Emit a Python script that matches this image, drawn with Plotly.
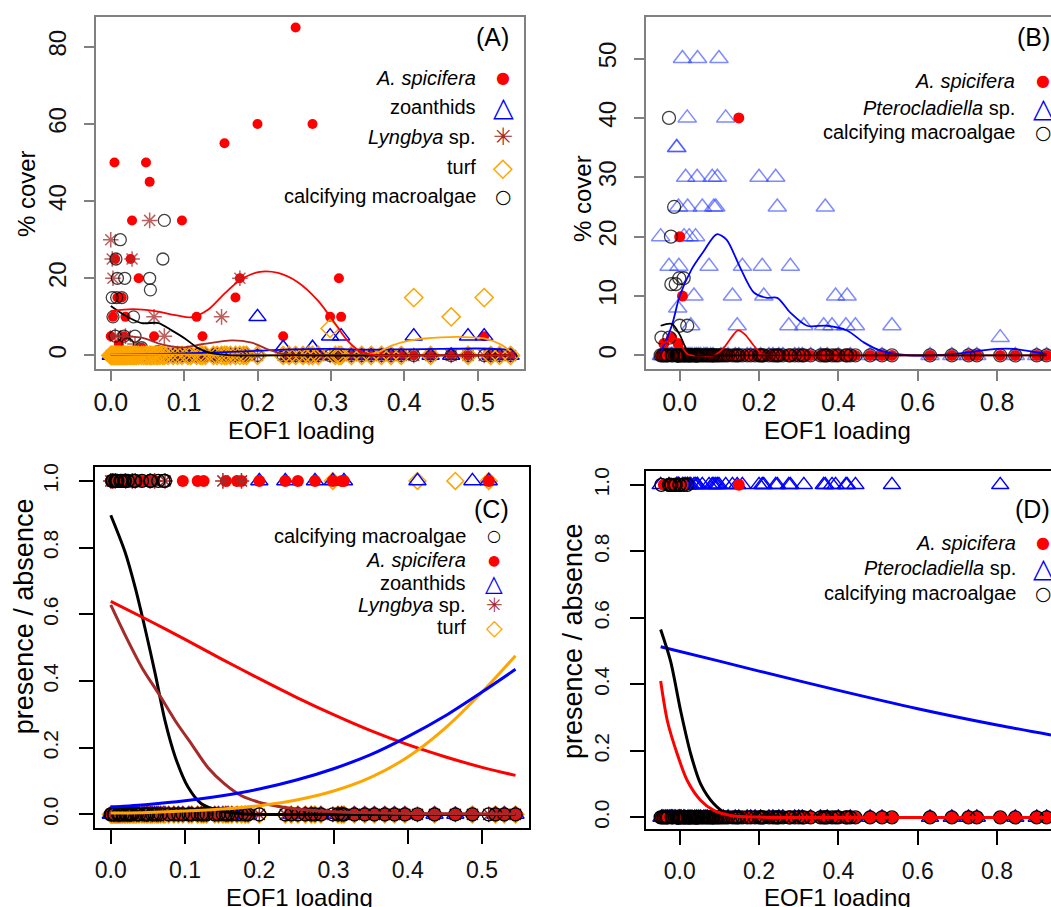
import plotly.graph_objects as go

W, H = 1051, 907
FONT = "Liberation Sans, Arial, Helvetica, sans-serif"
SYMFONT = "DejaVu Sans, sans-serif"

# ---------------- Panel A / C data (sites along EOF1 loading, % cover) ----------------
# sites where none of the five groups was recorded
SITES_A_OTHER = [0.001, 0.004, 0.010, 0.012, 0.016, 0.022, 0.025, 0.035, 0.045, 0.050,
                 0.056, 0.062, 0.067, 0.078, 0.085, 0.091, 0.105, 0.109, 0.122, 0.129,
                 0.140, 0.145, 0.158, 0.163, 0.181, 0.185, 0.243, 0.262, 0.270, 0.283,
                 0.306, 0.328, 0.342, 0.355, 0.369, 0.382, 0.396, 0.436, 0.518, 0.530, 0.545]

ASP_A_X = [0.000, 0.003, 0.005, 0.006, 0.009, 0.011, 0.015, 0.018, 0.020, 0.027,
           0.029, 0.038, 0.042, 0.048, 0.053, 0.059, 0.097, 0.117, 0.125, 0.155,
           0.170, 0.176, 0.200, 0.235, 0.252, 0.275, 0.299, 0.311, 0.314, 0.509]
ASP_A_Y = [5, 10, 50, 25, 15, 3, 15, 5, 10, 25,
           35, 20, 2, 50, 45, 5, 35, 10, 5, 55,
           15, 20, 60, 5, 85, 60, 10, 20, 10, 5]
ZOA_A_X = [0.200, 0.235, 0.275, 0.299, 0.314, 0.413, 0.487, 0.509]
ZOA_A_Y = [10, 2, 2, 5, 5, 5, 5, 5]
LYN_A_X = [0.000, 0.002, 0.003, 0.006, 0.020, 0.029, 0.033, 0.053, 0.059, 0.073, 0.151, 0.176]
LYN_A_Y = [30, 25, 20, 5, 5, 25, 3, 35, 10, 5, 10, 20]
TURF_A_X = [0.299, 0.413, 0.464, 0.509]
TURF_A_Y = [7, 15, 10, 15]
CAL_A_X = [0.002, 0.003, 0.006, 0.007, 0.008, 0.009, 0.013, 0.015, 0.018, 0.019,
           0.023, 0.031, 0.033, 0.042, 0.053, 0.054, 0.064, 0.071, 0.073]
CAL_A_Y = [15, 10, 5, 25, 15, 20, 30, 15, 5, 20,
           3, 10, 5, 2, 20, 17, 1, 25, 35]

# smoothers, panel A
A_RED_LX = [0.0, 0.03, 0.06, 0.09, 0.11, 0.133, 0.156, 0.176, 0.201, 0.228, 0.255, 0.283, 0.305, 0.323, 0.341, 0.36, 0.40, 0.45, 0.50, 0.545]
A_RED_LY = [11.5, 12.0, 11.5, 10.4, 9.9, 11.9, 16.2, 19.5, 21.6, 21.4, 19.0, 14.1, 8.5, 3.8, 1.0, 0.1, 0.0, 0.0, 0.0, 0.0]
A_CAL_LX = [0.0, 0.02, 0.042, 0.065, 0.083, 0.101, 0.119, 0.137, 0.16, 0.25, 0.40, 0.545]
A_CAL_LY = [12.8, 10.3, 8.4, 8.4, 6.5, 4.4, 1.9, 0.6, 0.1, 0.0, 0.0, 0.0]
A_LYN_LX = [0.0, 0.042, 0.069, 0.097, 0.124, 0.165, 0.192, 0.214, 0.233, 0.26, 0.35, 0.45, 0.545]
A_LYN_LY = [5.0, 4.6, 2.9, 2.1, 2.9, 3.9, 3.3, 1.6, 0.5, 0.1, 0.0, 0.0, 0.0]
A_ZOA_LX = [0.0, 0.1, 0.2, 0.25, 0.3, 0.35, 0.4, 0.45, 0.5, 0.545]
A_ZOA_LY = [0.2, 0.5, 1.2, 1.6, 1.7, 1.5, 1.6, 1.7, 1.8, 1.5]
A_TURF_LX = [0.0, 0.1, 0.2, 0.3, 0.345, 0.364, 0.382, 0.405, 0.428, 0.45, 0.473, 0.491, 0.509, 0.532, 0.545]
A_TURF_LY = [0.3, 0.2, 0.1, 0.1, 0.2, 0.8, 2.5, 3.8, 4.4, 4.7, 4.8, 4.7, 4.4, 2.8, 1.0]

# fitted presence curves, panel C
C_CAL_LX = [0.0, 0.019, 0.033, 0.046, 0.060, 0.073, 0.087, 0.104, 0.122, 0.145, 0.176, 0.25, 0.35, 0.45, 0.545]
C_CAL_LY = [0.897, 0.788, 0.679, 0.559, 0.42, 0.281, 0.171, 0.082, 0.032, 0.012, 0.002, 0.0, 0.0, 0.0, 0.0]
C_ASP_LX = [0.0, 0.05, 0.1, 0.15, 0.2, 0.25, 0.3, 0.35, 0.4, 0.45, 0.5, 0.545]
C_ASP_LY = [0.639, 0.583, 0.525, 0.465, 0.407, 0.351, 0.299, 0.251, 0.209, 0.173, 0.141, 0.117]
C_LYN_LX = [0.0, 0.019, 0.042, 0.065, 0.087, 0.109, 0.131, 0.154, 0.176, 0.199, 0.226, 0.26, 0.30, 0.40, 0.545]
C_LYN_LY = [0.628, 0.539, 0.44, 0.36, 0.28, 0.21, 0.14, 0.09, 0.056, 0.037, 0.024, 0.014, 0.008, 0.003, 0.001]
C_ZOA_LX = [0.0, 0.05, 0.1, 0.15, 0.2, 0.25, 0.3, 0.35, 0.4, 0.45, 0.5, 0.545]
C_ZOA_LY = [0.022, 0.030, 0.041, 0.056, 0.076, 0.103, 0.137, 0.179, 0.233, 0.295, 0.367, 0.435]
C_TURF_LX = [0.0, 0.05, 0.1, 0.15, 0.2, 0.25, 0.3, 0.35, 0.4, 0.45, 0.5, 0.545]
C_TURF_LY = [0.004, 0.006, 0.010, 0.016, 0.026, 0.043, 0.070, 0.111, 0.172, 0.258, 0.367, 0.476]

# ---------------- Panel B / D data ----------------
SITES_B_OTHER = [-0.046, -0.044, -0.040, -0.036, -0.032, -0.030, -0.018, -0.014, -0.010, -0.004,
                 0.001, 0.004, 0.013, 0.021, 0.026, 0.031, 0.038, 0.043, 0.048, 0.053,
                 0.061, 0.066, 0.070, 0.078, 0.084, 0.104, 0.110, 0.122, 0.140, 0.170,
                 0.179, 0.190, 0.204, 0.225, 0.235, 0.250, 0.260, 0.290, 0.300, 0.309,
                 0.330, 0.355, 0.372, 0.400, 0.430, 0.480, 0.510, 0.631, 0.686, 0.728,
                 0.749, 0.846, 0.900, 0.925]
PTE_B_X = [0.007, 0.045, 0.099, 0.019, 0.116, -0.007, -0.008, 0.015, 0.044, 0.082,
           0.095, 0.200, 0.242, -0.003, 0.020, 0.057, 0.086, 0.091, 0.246, 0.367,
           -0.048, 0.011, 0.024, 0.040, -0.027, -0.002, 0.074, 0.158, 0.208, 0.279,
           0.036, 0.133, 0.212, 0.393, 0.422, -0.005, 0.028, 0.145, 0.275, 0.313,
           0.363, 0.384, 0.419, 0.443, 0.535, 0.808]
PTE_B_Y = [50, 50, 50, 40, 40, 35, 35, 30, 30, 30,
           30, 30, 30, 25, 25, 25, 25, 25, 25, 25,
           20, 20, 20, 20, 15, 15, 15, 15, 15, 15,
           10, 10, 10, 10, 10, 8, 5, 5, 5, 5,
           5, 5, 5, 5, 5, 3]
CAL_B_X = [-0.027, -0.014, -0.022, -0.021, -0.010, -0.001, 0.010, 0.000, 0.019, -0.046, -0.026]
CAL_B_Y = [40, 25, 20, 12, 12, 13, 13, 5, 5, 3, 3]
ASP_B_X = [0.149, 0.000, 0.007, -0.040, -0.020, -0.004]
ASP_B_Y = [40, 20, 10, 2, 3, 2]

B_PTE_LX = [-0.048, -0.02, 0.0, 0.03, 0.06, 0.093, 0.118, 0.151, 0.187, 0.22, 0.246, 0.279, 0.321, 0.371, 0.422, 0.464, 0.506, 0.548, 0.632, 0.70, 0.80, 0.842, 0.925]
B_PTE_LY = [0.5, 5.0, 10.0, 14.5, 17.5, 20.4, 19.5, 15.0, 10.6, 9.7, 9.7, 7.2, 5.0, 5.0, 4.2, 2.2, 0.8, 0.2, 0.0, 0.3, 1.1, 1.1, 0.2]
B_ASP_LX = [-0.048, -0.01, 0.02, 0.05, 0.086, 0.11, 0.13, 0.147, 0.165, 0.185, 0.208, 0.25, 0.5, 0.925]
B_ASP_LY = [1.7, 2.8, 0.2, 0.0, 0.0, 1.2, 3.0, 4.2, 3.5, 1.8, 0.2, 0.0, 0.0, 0.0]
B_CAL_LX = [-0.048, -0.02, 0.0, 0.018, 0.04, 0.07, 0.2, 0.5, 0.925]
B_CAL_LY = [5.0, 5.3, 3.5, 1.0, 0.1, 0.0, 0.0, 0.0, 0.0]

D_PTE_LX = [-0.048, 0.1, 0.2, 0.4, 0.6, 0.8, 0.936]
D_PTE_LY = [0.513, 0.47, 0.44, 0.382, 0.327, 0.278, 0.248]
D_CAL_LX = [-0.048, -0.023, 0.0025, 0.028, 0.053, 0.086, 0.12, 0.17, 0.3, 0.5, 0.936]
D_CAL_LY = [0.565, 0.47, 0.32, 0.19, 0.10, 0.041, 0.01, 0.003, 0.0, 0.0, 0.0]
D_ASP_LX = [-0.048, -0.031, -0.006, 0.019, 0.053, 0.086, 0.128, 0.2, 0.5, 0.936]
D_ASP_LY = [0.41, 0.29, 0.19, 0.111, 0.051, 0.021, 0.006, 0.001, 0.0, 0.0]

# ---------------- helpers ----------------
def all_sites(other, *present_lists):
    s = set(other)
    for p in present_lists:
        s.update(p)
    return sorted(s)

def full_series(sites, px, py):
    rec = dict(zip(px, py))
    return sites, [rec.get(x, 0) for x in sites]

def presence(ys):
    return [1 if v > 0 else 0 for v in ys]

SITES_A = all_sites(SITES_A_OTHER, ASP_A_X, ZOA_A_X, LYN_A_X, TURF_A_X, CAL_A_X)
SITES_B = all_sites(SITES_B_OTHER, PTE_B_X, CAL_B_X, ASP_B_X)

RED = "#ff0000"
BLUE = "#0000ff"
BROWN = "#a52a2a"
ORANGE = "#ffa500"
BLACK = "#000000"

STY = {
    "asp": dict(symbol="circle", color=RED, size=10, lw=0),
    "zoa": dict(symbol="triangle-up-open", color=BLUE, size=15, lw=1.5),
    "lyn": dict(symbol="asterisk-open", color="rgba(165,42,42,0.75)", size=13, lw=1.5),
    "turf": dict(symbol="diamond-open", color=ORANGE, size=14, lw=1.5),
    "cal": dict(symbol="circle-open", color="rgba(0,0,0,0.75)", size=12, lw=1.3),
}

fig = go.Figure()

def pts(xs, ys, key, ax, size=None, color=None):
    s = STY[key]
    fig.add_trace(go.Scatter(
        x=xs, y=ys, mode="markers", xaxis="x" + ax, yaxis="y" + ax, showlegend=False,
        hoverinfo="skip",
        marker=dict(symbol=s["symbol"], color=color or s["color"], size=size or s["size"],
                    line=dict(width=s["lw"], color=color or s["color"]))))

def line(xs, ys, color, ax, width):
    fig.add_trace(go.Scatter(
        x=xs, y=ys, mode="lines", xaxis="x" + ax, yaxis="y" + ax, showlegend=False,
        hoverinfo="skip", line=dict(color=color, width=width, shape="spline", smoothing=0.8)))

# ---- Panel A ----
asp_x, asp_y = full_series(SITES_A, ASP_A_X, ASP_A_Y)
zoa_x, zoa_y = full_series(SITES_A, ZOA_A_X, ZOA_A_Y)
lyn_x, lyn_y = full_series(SITES_A, LYN_A_X, LYN_A_Y)
turf_x, turf_y = full_series(SITES_A, TURF_A_X, TURF_A_Y)
cal_x, cal_y = full_series(SITES_A, CAL_A_X, CAL_A_Y)

pts(asp_x, asp_y, "asp", "")
pts(zoa_x, zoa_y, "zoa", "")
pts(lyn_x, lyn_y, "lyn", "")
pts(cal_x, cal_y, "cal", "")
pts(turf_x, turf_y, "turf", "")
line(A_ZOA_LX, A_ZOA_LY, BLUE, "", 1.8)
line(A_TURF_LX, A_TURF_LY, ORANGE, "", 1.8)
line(A_LYN_LX, A_LYN_LY, BROWN, "", 1.8)
line(A_CAL_LX, A_CAL_LY, BLACK, "", 1.8)
line(A_RED_LX, A_RED_LY, RED, "", 1.8)

# ---- Panel B ----
pb_x, pb_y = full_series(SITES_B, PTE_B_X, PTE_B_Y)
cb_x, cb_y = full_series(SITES_B, CAL_B_X, CAL_B_Y)
ab_x, ab_y = full_series(SITES_B, ASP_B_X, ASP_B_Y)
pts(pb_x, pb_y, "zoa", "2", size=16, color="rgba(40,60,255,0.6)")
pts(ab_x, ab_y, "asp", "2", size=11)
pts(cb_x, cb_y, "cal", "2", size=13)
line(B_PTE_LX, B_PTE_LY, BLUE, "2", 1.8)
line(B_ASP_LX, B_ASP_LY, RED, "2", 1.8)
line(B_CAL_LX, B_CAL_LY, BLACK, "2", 1.8)

# ---- Panel C (presence / absence of panel A groups) ----
pts(turf_x, presence(turf_y), "turf", "3", size=13)
pts(zoa_x, presence(zoa_y), "zoa", "3", size=15, color=BLUE)
pts(asp_x, presence(asp_y), "asp", "3", size=12)
pts(lyn_x, presence(lyn_y), "lyn", "3", size=13, color=BROWN)
pts(cal_x, presence(cal_y), "cal", "3", size=13, color=BLACK)
line(C_CAL_LX, C_CAL_LY, BLACK, "3", 3)
line(C_LYN_LX, C_LYN_LY, BROWN, "3", 3)
line(C_ASP_LX, C_ASP_LY, RED, "3", 3)
line(C_TURF_LX, C_TURF_LY, ORANGE, "3", 3)
line(C_ZOA_LX, C_ZOA_LY, BLUE, "3", 3)

# ---- Panel D (presence / absence of panel B groups) ----
pts(pb_x, presence(pb_y), "zoa", "4", size=15, color=BLUE)
pts(ab_x, presence(ab_y), "asp", "4", size=12)
pts(cb_x, presence(cb_y), "cal", "4", size=13, color=BLACK)
line(D_PTE_LX, D_PTE_LY, BLUE, "4", 3)
line(D_CAL_LX, D_CAL_LY, BLACK, "4", 3)
line(D_ASP_LX, D_ASP_LY, RED, "4", 3)

# ---------------- layout ----------------
def hx(p): return p / W
def vy(p): return 1 - p / H

def xax(dom, rng, tv, fmt, gray, mirror=True, fs=24, tl=10, so=4):
    c = "#808080" if gray else "#000000"
    return dict(domain=[hx(dom[0]), hx(dom[1])], range=rng, tickvals=tv, tickformat=fmt,
                showgrid=False, zeroline=False, showline=True, linecolor=c, linewidth=2,
                mirror=mirror, ticks="outside", ticklen=tl, tickwidth=1.5, tickcolor=c,
                ticklabelstandoff=so, tickfont=dict(family=FONT, size=fs, color="#111"),
                fixedrange=True)

def yax(dom, rng, tv, fmt, gray, anchor, mirror=True, fs=24, tl=10, so=4):
    c = "#808080" if gray else "#000000"
    return dict(domain=[vy(dom[1]), vy(dom[0])], range=rng, tickvals=tv, tickformat=fmt,
                showgrid=False, zeroline=False, showline=True, linecolor=c, linewidth=2,
                mirror=mirror, ticks="outside", ticklen=tl, tickwidth=1.5, tickcolor=c,
                tickangle=-90, ticklabelstandoff=so, anchor=anchor,
                tickfont=dict(family=FONT, size=fs, color="#111"), fixedrange=True)

fig.update_layout(
    width=W, height=H, margin=dict(l=0, r=0, t=0, b=0),
    paper_bgcolor="white", plot_bgcolor="white",
    xaxis=dict(**xax((94, 523), [-0.0204, 0.5633], [0, 0.1, 0.2, 0.3, 0.4, 0.5], ".1f", True, fs=25, so=0), anchor="y"),
    yaxis=yax((13, 367), [-3.61, 87.74], [0, 20, 40, 60, 80], ".0f", True, "x", so=8),
    xaxis2=dict(**xax((645, 1051), [-0.0855, 0.936], [0, 0.2, 0.4, 0.6, 0.8], ".1f", True, fs=25, so=0), anchor="y2"),
    yaxis2=yax((13, 367), [-2.35, 57.0], [0, 10, 20, 30, 40, 50], ".0f", True, "x2", mirror=False, so=8),
    xaxis3=dict(**xax((93, 528), [-0.0215, 0.5632], [0, 0.1, 0.2, 0.3, 0.4, 0.5], ".1f", False, fs=23, tl=14, so=6), anchor="y3"),
    yaxis3=yax((465, 828), [-0.0418, 1.0418], [0, 0.2, 0.4, 0.6, 0.8, 1.0], ".1f", False, "x3", fs=21, tl=14, so=12),
    xaxis4=dict(**xax((645, 1051), [-0.0855, 0.936], [0, 0.2, 0.4, 0.6, 0.8], ".1f", False, fs=23, tl=14, so=6), anchor="y4"),
    yaxis4=yax((469, 829), [-0.0359, 1.0419], [0, 0.2, 0.4, 0.6, 0.8, 1.0], ".1f", False, "x4", mirror=False, fs=21, tl=14, so=12),
)

ann = []
def text(x, y, s, size, xanchor="center", angle=0, color="black", family=FONT):
    ann.append(dict(x=hx(x), y=vy(y), xref="paper", yref="paper", text=s, showarrow=False,
                    xanchor=xanchor, yanchor="middle", textangle=angle,
                    font=dict(family=family, size=size, color=color)))

# axis titles
text(24, 190, "% cover", 24, angle=-90)
text(581, 195, "% cover", 24, angle=-90)
text(300, 428, "EOF1 loading", 24)
text(837, 428, "EOF1 loading", 24)
text(22, 615, "presence / absence", 27, angle=-90)
text(572, 640, "presence / absence", 27, angle=-90)
text(298, 897, "EOF1 loading", 24)
text(837, 897, "EOF1 loading", 24)

# panel letters
text(510, 33, "(A)", 25, xanchor="right")
text(1015, 33, "(B)", 25, xanchor="left")
text(510, 507, "(C)", 25, xanchor="right")
text(1013, 507, "(D)", 25, xanchor="left")

SYM = {"asp": ("\u25CF", RED, 16), "zoa": ("\u25B3", BLUE, 27), "lyn": ("\u2733", BROWN, 24),
       "turf": ("\u25C7", ORANGE, 26), "cal": ("\u25CB", BLACK, 19)}
LAB = {"asp": "<i>A. spicifera</i>", "zoa": "zoanthids", "lyn": "<i>Lyngbya</i> sp.",
       "turf": "turf", "cal": "calcifying macroalgae", "pte": "<i>Pterocladiella</i> sp."}

def legend(keys, ys, xr, xs, labels=None, scale=1.0):
    for i, (k, yy) in enumerate(zip(keys, ys)):
        lab = labels[i] if labels else LAB[k]
        text(xr, yy, lab, 20, xanchor="right")
        g, c, s = SYM[k]
        text(xs, yy, g, round(s * scale), color=c, family=SYMFONT)

legend(["asp", "zoa", "lyn", "turf", "cal"], [74, 103, 134, 164, 193], 477, 502)
legend(["asp", "zoa", "cal"], [77, 104, 129], 1017, 1043, [LAB["asp"], LAB["pte"], LAB["cal"]])
legend(["cal", "asp", "zoa", "lyn", "turf"], [534, 558, 582, 604, 626], 467, 493, scale=0.85)
legend(["asp", "zoa", "cal"], [541, 566, 592], 1018, 1043, [LAB["asp"], LAB["pte"], LAB["cal"]])

fig.update_layout(annotations=ann)
fig.write_html("out.html")
